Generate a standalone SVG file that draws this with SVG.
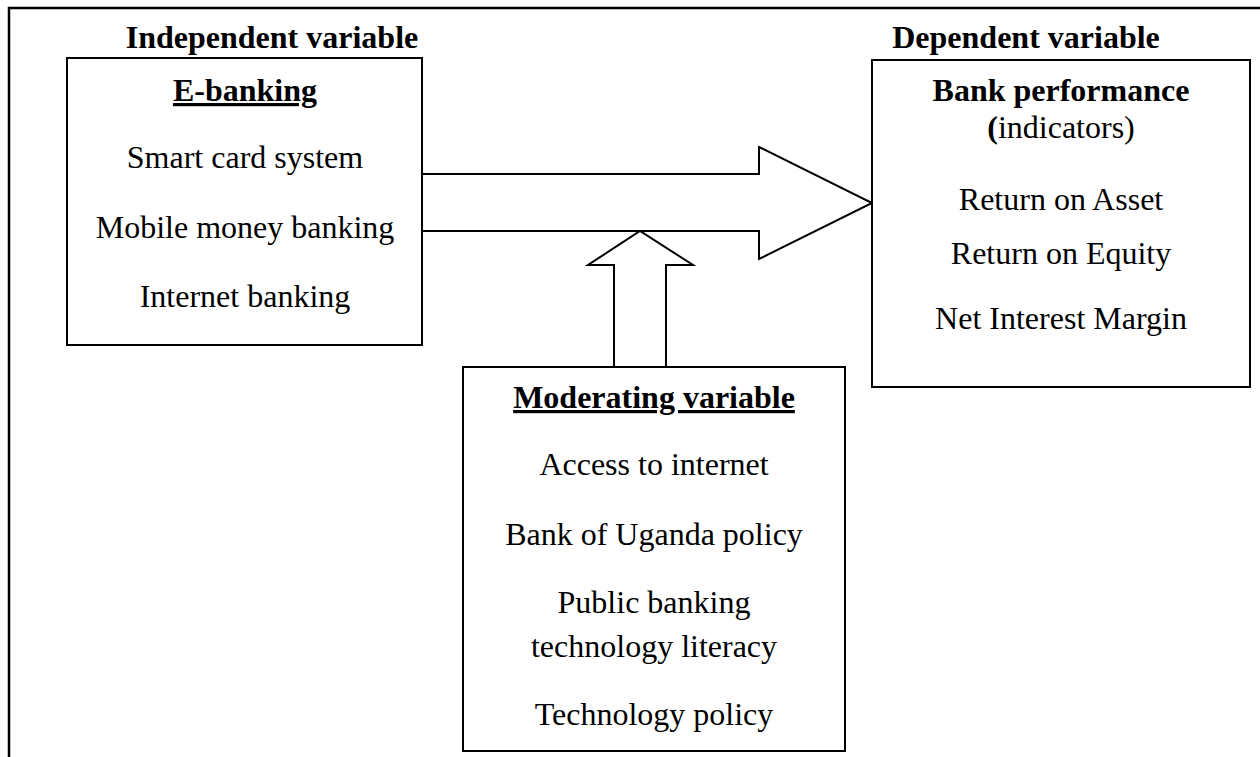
<svg xmlns="http://www.w3.org/2000/svg" width="1260" height="757" viewBox="0 0 1260 757">
  <style>
    .box { fill: #ffffff; stroke: #000000; stroke-width: 2; }
    .frame { fill: none; stroke: #000000; stroke-width: 2.5; }
    .arrow { fill: #ffffff; stroke: #000000; stroke-width: 2; stroke-linejoin: miter; }
    text { font-family: "Liberation Serif", "Times New Roman", serif; font-size: 32px; fill: #000000; text-anchor: middle; }
    .b { font-weight: bold; }
    .u { text-decoration: underline; }
  </style>
  <rect width="1260" height="757" fill="#ffffff"/>

  <!-- page frame: top and left rules -->
  <path class="frame" d="M9,757 V8 H1260"/>

  <!-- section headings -->
  <text class="b" x="272" y="48">Independent variable</text>
  <text class="b" x="1026" y="48">Dependent variable</text>

  <g id="connectors">
    <!-- main block arrow from E-banking to Bank performance -->
    <path class="arrow" d="M422,174 H759 V147 L872,203 L759,259 V231 H422"/>
    <!-- moderating block arrow pointing up into the main arrow -->
    <path class="arrow" d="M614,367 V265 H588 L640,231 L693,265 H666 V367"/>
  </g>

  <g id="ebanking">
    <rect class="box" x="67" y="58" width="355" height="287"/>
    <text class="b u" x="245" y="101">E-banking</text>
    <text x="245" y="168">Smart card system</text>
    <text x="245" y="238">Mobile money banking</text>
    <text x="245" y="307">Internet banking</text>
  </g>

  <g id="bank-performance">
    <rect class="box" x="872" y="60" width="378" height="327"/>
    <text class="b" x="1061" y="101">Bank performance</text>
    <text x="1061" y="138"><tspan class="b">(</tspan>indicators)</text>
    <text x="1061" y="210">Return on Asset</text>
    <text x="1061" y="264">Return on Equity</text>
    <text x="1061" y="329">Net Interest Margin</text>
  </g>

  <g id="moderating">
    <rect class="box" x="463" y="367" width="382" height="384"/>
    <text class="b u" x="654" y="408">Moderating variable</text>
    <text x="654" y="475">Access to internet</text>
    <text x="654" y="545">Bank of Uganda policy</text>
    <text x="654" y="613">Public banking</text>
    <text x="654" y="657">technology literacy</text>
    <text x="654" y="725">Technology policy</text>
  </g>
</svg>
